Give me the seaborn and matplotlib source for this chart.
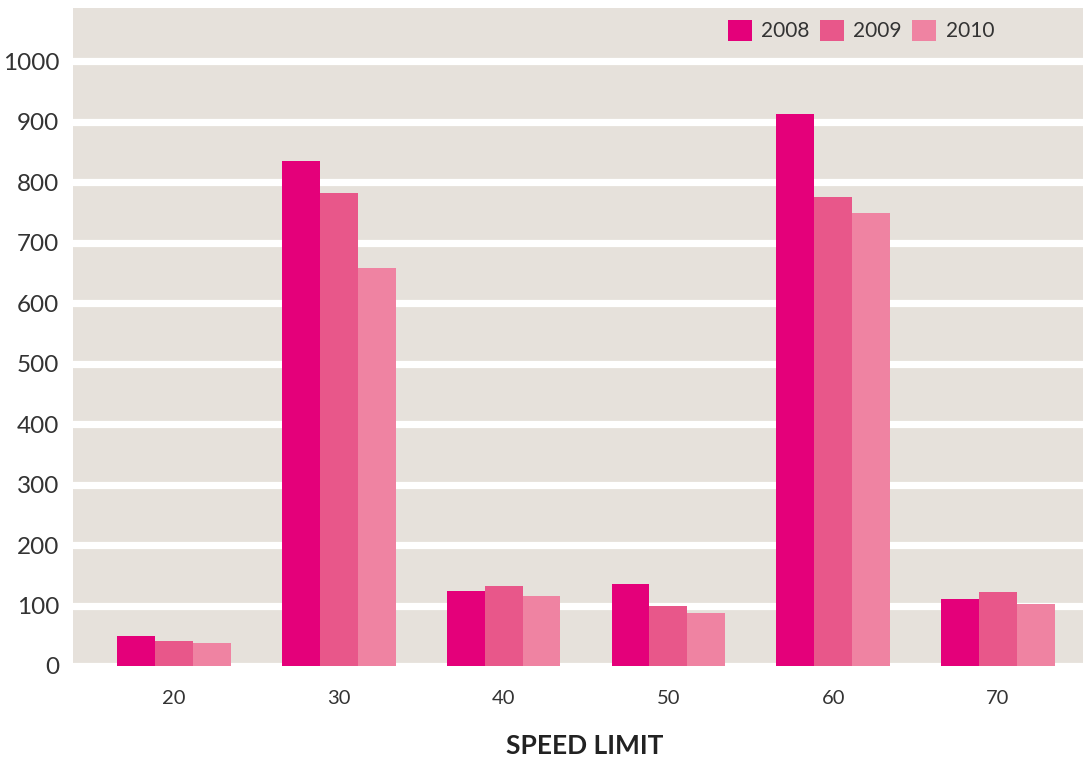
import matplotlib
matplotlib.use("Agg")
import matplotlib.pyplot as plt
import seaborn as sns
import pandas as pd

# Casualties by speed limit, per year
speed_limits = ["20", "30", "40", "50", "60", "70"]
years = ["2008", "2009", "2010"]
values_2008 = [50, 835, 124, 136, 912, 111]
values_2009 = [41, 782, 132, 99, 775, 122]
values_2010 = [38, 658, 116, 88, 749, 102]
y_ticks = [0, 100, 200, 300, 400, 500, 600, 700, 800, 900, 1000]

colors = ["#E4007A", "#E8578A", "#EF83A2"]
bg = "#E6E1DB"
text_color = "#333333"

df = pd.DataFrame({
    "speed": speed_limits * 3,
    "year": [y for y in years for _ in speed_limits],
    "value": values_2008 + values_2009 + values_2010,
})

sns.set_theme(style="white")
plt.rcParams["font.family"] = ["Lato", "DejaVu Sans"]

fig = plt.figure(figsize=(10.83, 7.6), dpi=100)
ax = fig.add_axes([0.0674, 0.1237, 0.9326, 0.8658])
ax.set_facecolor(bg)

sns.barplot(data=df, x="speed", y="value", hue="year", palette=colors,
            width=0.69, saturation=1, gap=0, ax=ax, zorder=3,
            linewidth=0, edgecolor="none")

ax.set_ylim(0, 1088)
ax.set_xlim(-0.613, 5.516)
ax.set_yticks(y_ticks)
ax.set_yticklabels([str(t) for t in y_ticks])
ax.yaxis.grid(True, color="white", linewidth=5.2, zorder=1)
ax.set_axisbelow(True)
ax.tick_params(axis="y", length=0, pad=10, labelsize=17.5, labelcolor=text_color)
ax.tick_params(axis="x", length=0, pad=17, labelsize=14.5, labelcolor=text_color)
for s in ax.spines.values():
    s.set_visible(False)

ax.set_ylabel("")
ax.set_xlabel("SPEED LIMIT", fontsize=19, fontweight="bold", color="#222222")
ax.xaxis.set_label_coords(0.507, -0.104)

handles, labels = ax.get_legend_handles_labels()
ax.legend(handles, labels, ncol=3, loc="upper left",
          bbox_to_anchor=(0.6485, 0.982), frameon=False, fontsize=15,
          borderpad=0, borderaxespad=0,
          handlelength=1.15, handleheight=1.15, handletextpad=0.45,
          columnspacing=0.5, labelcolor=text_color)

fig.savefig("out.png", dpi=100)
